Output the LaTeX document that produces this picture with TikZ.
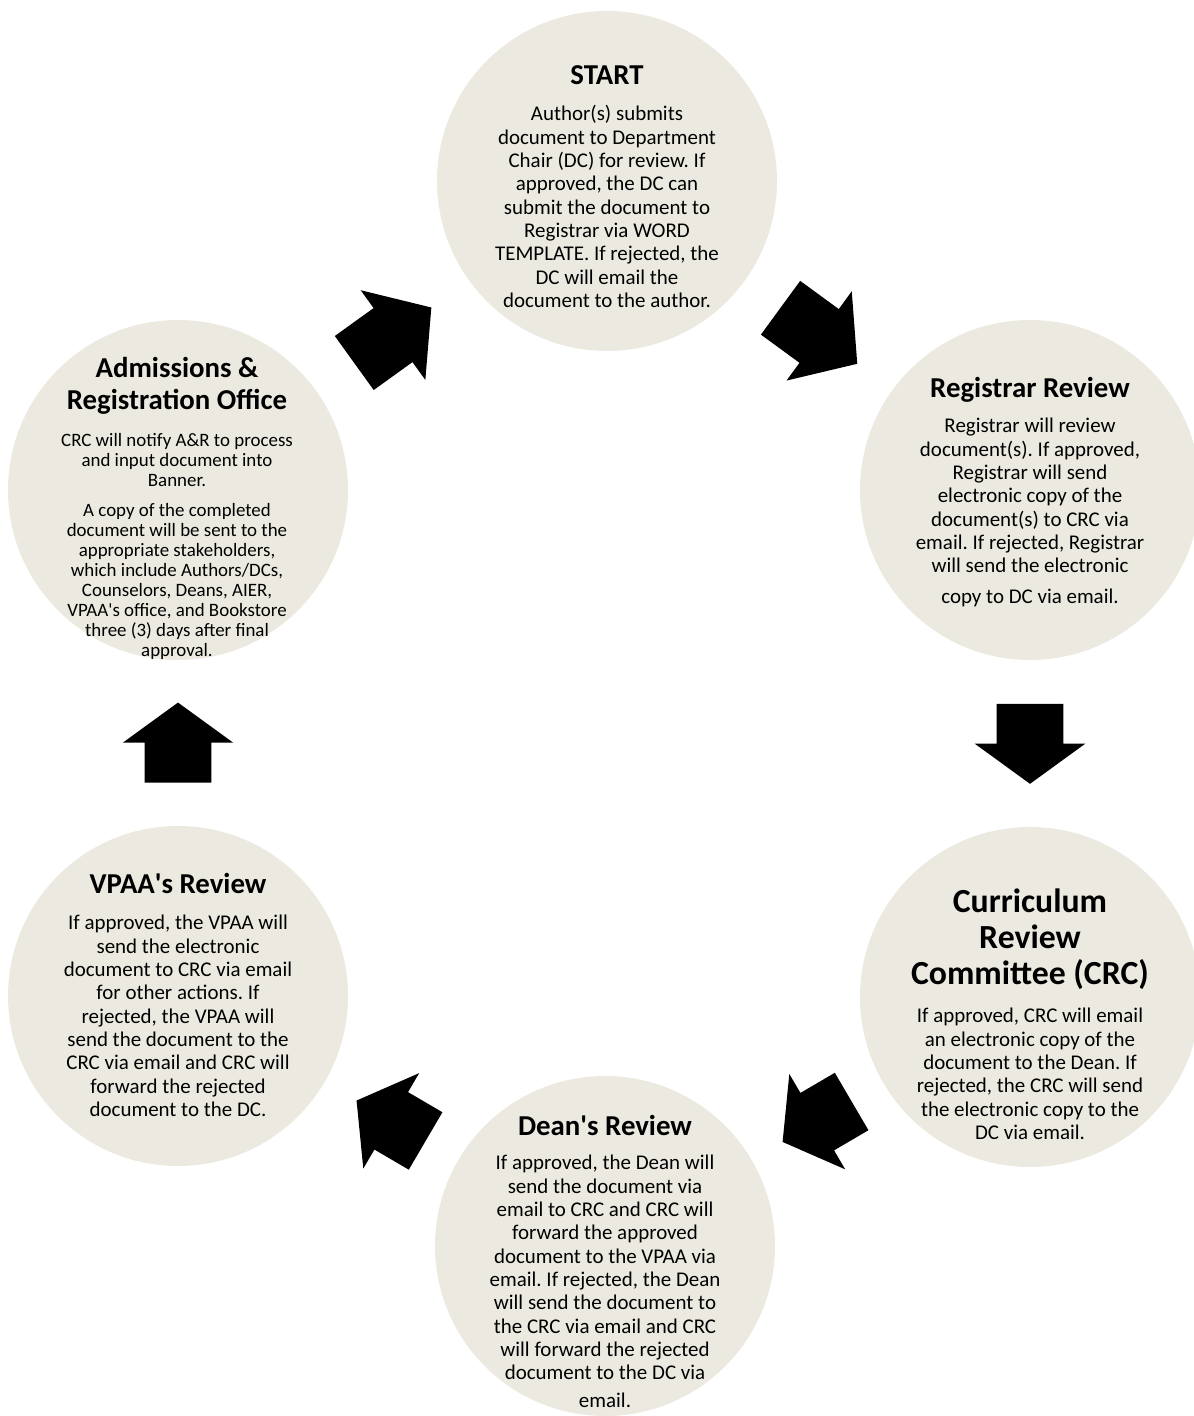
\documentclass[tikz,border=0pt]{standalone}
\usepackage{fontspec}
\setmainfont{Carlito}
\usetikzlibrary{shapes.arrows}
\definecolor{stagefill}{RGB}{236,234,224}
\tikzset{
  stage/.style={circle,fill=stagefill,minimum size=8.5cm,inner sep=0pt},
  stagetitle/.style={align=center,inner sep=0pt,font=\fontsize{20.5}{22.7}\selectfont\bfseries},
  stagebody/.style={align=center,inner sep=0pt,font=\fontsize{14.9}{16.6}\selectfont},
  blockarrow/.style={single arrow,fill=black,inner xsep=0pt,inner ysep=0.825cm,
    single arrow head extend=0.55cm,minimum height=2cm,single arrow tip angle=108,
    sloped,allow upside down,anchor=tail},
  longarrow/.style={blockarrow,minimum height=2.375cm,single arrow tip angle=99}
}
\newcommand{\sq}{\textquotesingle}
\frenchspacing
\begin{document}
\begin{tikzpicture}
  \useasboundingbox (0,0) rectangle (29.825,35.4);
  % stages
  \draw (15.175,30.875) node[stage] (start) {};
  \draw (25.75,23.15) node[stage] (reg) {};
  \draw (25.75,10.475) node[stage] (crc) {};
  \draw (15.125,4.25) node[stage] (dean) {};
  \draw (4.45,10.5) node[stage] (vpaa) {};
  \draw (4.45,23.15) node[stage] (adm) {};
  %
  % titles
  \draw (15.175,33.525) node[stagetitle] (starttitle) {START};
  \draw (25.75,25.65) node[stagetitle] (regtitle) {Registrar Review};
  \draw (25.75,11.9125) node[stagetitle,font=\fontsize{24}{25.5}\selectfont\bfseries] (crctitle) {Curriculum\\Review\\Committee (CRC)};
  \draw (15.125,7.275) node[stagetitle] (deantitle) {Dean\sq s Review};
  \draw (4.45,13.3) node[stagetitle] (vpaatitle) {VPAA\sq s Review};
  \draw (4.425,25.75) node[stagetitle] (admtitle) {Admissions \&\\Registration Office};
  %
  % texts
  \draw (15.175,30.2375) node[stagebody] (starttext) {Author(s) submits\\document to Department\\Chair (DC) for review. If\\approved, the DC can\\submit the document to\\Registrar via WORD\\TEMPLATE. If rejected, the\\DC will email the\\document to the author.};
  \draw (25.75,22.5875) node[stagebody] (regtext) {Registrar will review\\document(s). If approved,\\Registrar will send\\electronic copy of the\\document(s) to CRC via\\email. If rejected, Registrar\\will send the electronic\\[5pt]copy to DC via email.};
  \draw (25.75,8.55) node[stagebody] (crctext) {If approved, CRC will email\\an electronic copy of the\\document to the Dean. If\\rejected, the CRC will send\\the electronic copy to the\\DC via email.};
  \draw (15.125,3.3625) node[stagebody] (deantext) {If approved, the Dean will\\send the document via\\email to CRC and CRC will\\forward the approved\\document to the VPAA via\\email. If rejected, the Dean\\will send the document to\\the CRC via email and CRC\\will forward the rejected\\document to the DC via\\[3pt]email.};
  \draw (4.45,10.0) node[stagebody] (vpaatext) {If approved, the VPAA will\\send the electronic\\document to CRC via email\\for other actions. If\\rejected, the VPAA will\\send the document to the\\CRC via email and CRC will\\forward the rejected\\document to the DC.};
  \draw (4.425,21.7375) node[stagebody,font=\fontsize{13.45}{14.2}\selectfont] (admtext) {CRC will notify A\&R to process\\and input document into\\Banner.\\[7.6pt]A copy of the completed\\document will be sent to the\\appropriate stakeholders,\\which include Authors/DCs,\\Counselors, Deans, AIER,\\VPAA\sq s office, and Bookstore\\three (3) days after final\\approval.};
  %
  % arrows, tail placed so that each arrow sits midway
  \path (adm) -- node[longarrow,pos=0.248] (tostart) {} (start);
  \path (start) -- node[longarrow,pos=0.242] (toreg) {} (reg);
  \path (reg) -- node[blockarrow,pos=0.26] (tocrc) {} (crc);
  \path (crc) -- node[blockarrow,pos=0.238] (todean) {} (dean);
  \path (dean) -- node[blockarrow,pos=0.242] (tovpaa) {} (vpaa);
  \path (vpaa) -- node[blockarrow,pos=0.259] (toadm) {} (adm);
\end{tikzpicture}
\end{document}
